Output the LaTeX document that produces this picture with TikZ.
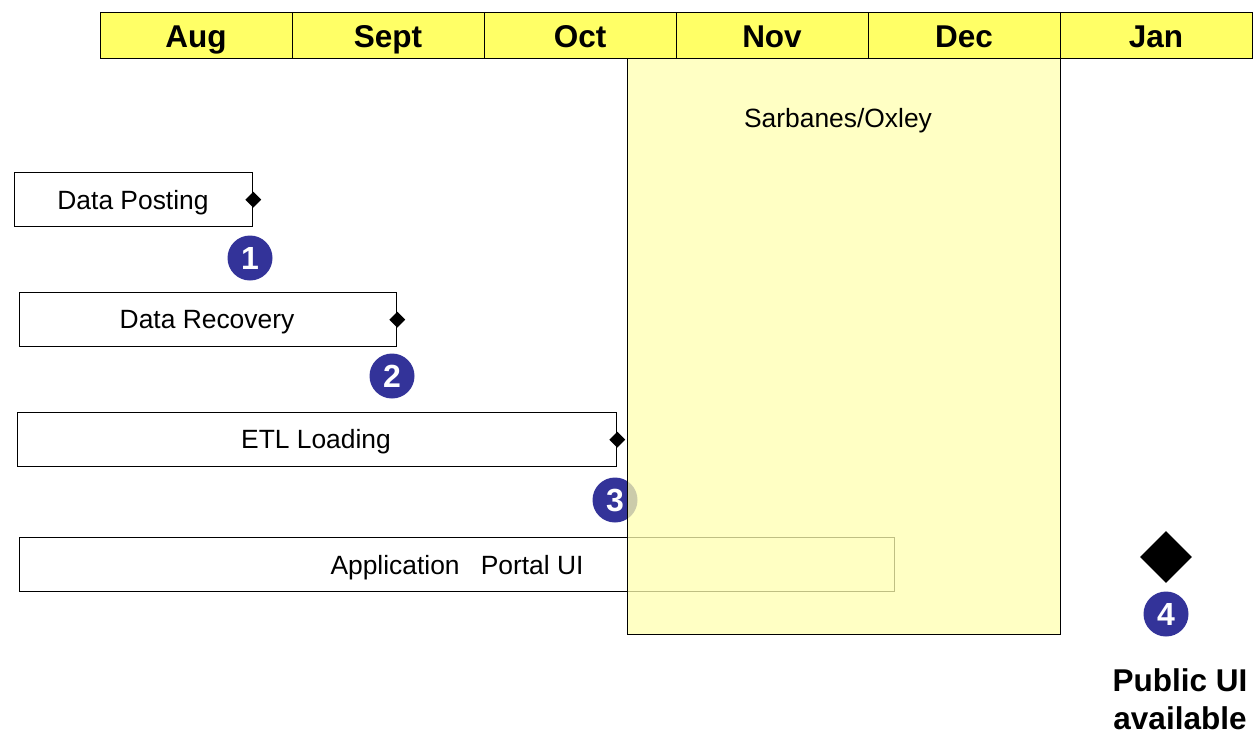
\documentclass[tikz,border=0pt]{standalone}
\usepackage{fontspec}
\setmainfont{Liberation Sans}
\usetikzlibrary{shapes.geometric}
\definecolor{hdr}{HTML}{FFFF66}
\definecolor{sox}{HTML}{FFFFB0}
\definecolor{numblue}{HTML}{333399}
\tikzset{
  month/.style={draw=black, line width=1.2pt, fill=hdr, minimum width=192pt, minimum height=46pt, inner sep=0pt, anchor=north west},
  mlabel/.style={anchor=base, inner sep=0pt, font=\fontsize{31.5}{32}\selectfont\bfseries},
  task/.style={draw=black, line width=1.3pt, fill=white, minimum height=54pt, inner sep=0pt, anchor=north west},
  tlabel/.style={anchor=base, inner sep=0pt, font=\fontsize{26.4}{28}\selectfont},
  ms/.style={diamond, fill=black, inner sep=0pt, minimum width=16pt, minimum height=16pt},
  num/.style={circle, fill=numblue, text=white, inner sep=0pt, minimum size=45pt, font=\fontsize{32}{32}\selectfont\bfseries},
}
\begin{document}
\begin{tikzpicture}[x=1pt,y=-1pt]
\useasboundingbox (0,0) rectangle (1255,740);
% header
\node[month] (aug) at (100,12) {};
\node[month] (sep) at (292,12) {};
\node[month] (oct) at (484,12) {};
\node[month] (nov) at (676,12) {};
\node[month] (dec) at (868,12) {};
\node[month] (jan) at (1060,12) {};
\node[mlabel] (laug) at (196,47.5) {Aug};
\node[mlabel] (lsep) at (388,47.5) {Sept};
\node[mlabel] (loct) at (580,47.5) {Oct};
\node[mlabel] (lnov) at (772,47.5) {Nov};
\node[mlabel] (ldec) at (964,47.5) {Dec};
\node[mlabel] (ljan) at (1156,47.5) {Jan};
% tasks
\node[task, minimum width=238pt] (dp) at (14,172) {};
\node[tlabel] (ldp) at (133,209) {Data Posting};
\node[ms] (dpm) at (dp.east) {};
\node[num] (n1) at (250,258) {1};

\node[task, minimum width=377pt] (dr) at (19,292) {};
\node[tlabel] (ldr) at (207,328) {Data Recovery};
\node[ms] (drm) at (dr.east) {};
\node[num] (n2) at (392,376) {2};

\node[task, minimum width=599pt] (etl) at (17,412) {};
\node[tlabel] (letl) at (316,448) {ETL Loading};
\node[ms] (etlm) at (etl.east) {};
\node[num] (n3) at (615,500) {3};

\node[task, minimum width=875pt] (app) at (19,537) {};
\node[tlabel] (lapp) at (457,574) {Application\hspace{0.8em}Portal UI};

% Sarbanes/Oxley overlay
\node[draw=black, line width=1.3pt, fill=sox, fill opacity=0.75, minimum width=433pt, minimum height=576pt, inner sep=0pt, anchor=north west] (sox) at (627,58) {};
\node[tlabel] (soxl) at (838,127) {Sarbanes/Oxley};

% final milestone
\node[ms, minimum width=52pt, minimum height=52pt] (pm) at (1166,557) {};
\node[num] (n4) at (1166,614) {4};
\node[tlabel, font=\fontsize{31.5}{32}\selectfont\bfseries] (pub1) at (1180,691) {Public UI};
\node[tlabel, font=\fontsize{31.5}{32}\selectfont\bfseries] (pub2) at (1180,729) {available};
\end{tikzpicture}
\end{document}
